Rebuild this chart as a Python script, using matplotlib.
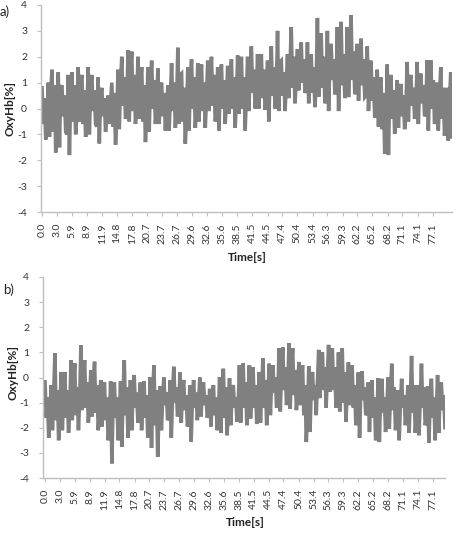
import numpy as np
import matplotlib
matplotlib.use("Agg")
from matplotlib import pyplot as plt

# tick labels of the time axis (s)
TIME_LABELS = ['0.0','3.0','5.9','8.9','11.9','14.8','17.8','20.7','23.7','26.7',
               '29.6','32.6','35.6','38.5','41.5','44.5','47.4','50.4','53.4','56.3',
               '59.3','62.2','65.2','68.2','71.1','74.1','77.1']
DUR_A = 80.9   # last sample time, panel a
DUR_B = 79.5   # last sample time, panel b

# panel a) OxyHb [%]
oxy_a = [
 0.8,-0.6,0.4,-1.2, -0.4,1.0,-1.1,0.6, 1.5,-0.9,0.9,-1.7, -0.7,1.4,-1.5,0.8,
 0.9,-0.3,0.5,-0.9, -1.0,1.3,-1.8,0.6, 1.4,-0.5,0.9,-1.0, -0.2,1.6,-0.5,1.0,
 1.3,-0.6,0.7,-1.1, -0.4,1.6,-1.0,0.8, 1.3,-0.1,0.7,-0.6, -0.7,1.2,-1.35,0.5,
 0.8,-0.3,0.4,-0.9, -0.1,0.5,-0.6,0.2, 1.0,-0.7,0.6,-1.4, -0.3,1.5,-0.8,0.9,
 2.0,0.1,1.2,-0.4, 0.0,2.25,-0.5,1.4, 2.2,-0.1,1.3,-0.6, 0.2,2.0,-0.4,1.1,
 1.6,-0.5,0.9,-1.3, -0.2,1.6,-0.9,1.0, 1.85,0.0,1.1,-0.6, 0.1,1.55,-0.6,0.9,
 1.0,-0.3,0.6,-0.85, -0.2,0.9,-0.85,0.5, 1.75,-0.1,1.0,-0.75, 0.2,2.35,-0.6,1.3,
 1.35,-0.5,0.8,-1.36, -0.2,1.6,-0.85,1.0, 1.9,0.0,1.2,-0.75, 0.1,1.75,-0.5,1.1,
 1.7,-0.1,1.0,-0.75, 0.4,1.85,-0.1,1.2, 2.0,0.1,1.3,-0.5, -0.2,1.6,-0.85,1.0,
 1.7,0.0,1.1,-0.6, 0.3,1.65,-0.2,1.0, 1.9,0.0,1.2,-0.75, 0.4,2.05,-0.2,1.3,
 2.0,0.0,1.2,-0.85, 0.5,2.0,-0.1,1.4, 2.4,0.6,1.5,0.0, 0.5,2.1,0.0,1.4,
 2.1,0.4,1.5,-0.05, 0.3,1.85,-0.5,1.3, 2.4,0.5,1.6,0.0, 0.6,3.0,-0.1,1.8,
 1.85,0.5,1.4,-0.1, 0.9,2.1,0.4,1.6, 3.15,0.8,2.0,0.2, 1.1,2.3,0.7,1.8,
 2.55,1.0,1.9,0.6, 0.8,2.55,0.2,1.8, 2.1,0.6,1.6,0.05, 0.9,3.5,0.45,2.2,
 2.9,0.8,2.0,0.2, 0.5,3.0,-0.1,1.9, 2.5,1.1,1.9,0.6, 0.6,3.15,-0.1,2.0,
 3.35,0.9,2.1,0.4, 1.0,3.15,0.44,2.0, 3.6,1.1,2.2,0.55, 0.8,2.5,0.3,1.8,
 2.7,0.9,1.9,0.44, 0.5,2.4,-0.1,1.6, 1.85,0.3,1.2,-0.35, -0.1,1.5,-0.7,0.9,
 1.2,-0.8,0.6,-1.75, -0.9,1.7,-1.8,0.8, 1.3,-0.4,0.7,-0.98, -0.2,1.1,-0.75,0.6,
 0.95,-0.3,0.5,-0.8, 0.0,1.8,-0.5,1.0, 1.3,0.1,0.8,-0.4, -0.1,1.8,-0.6,1.0,
 1.35,0.2,0.9,-0.3, -0.2,1.86,-0.85,1.0, 1.86,0.0,1.1,-0.6, -0.3,1.0,-0.85,0.5,
 1.6,-0.4,0.8,-1.05, -0.5,0.8,-1.24,0.3, 1.4,-1.1]

# panel b) OxyHb [%]
oxy_b = [
 -0.17,-1.6,-0.8,-2.4, -1.4,-0.3,-2.1,-0.7, 0.97,-1.7,-0.5,-2.5, -1.5,0.22,-2.1,-0.6,
 0.22,-1.6,-0.5,-2.2, -1.2,0.69,-1.7,-0.3, 0.56,-1.5,-0.4,-2.1, -0.8,1.28,-1.3,0.1,
 0.69,-1.2,-0.2,-1.8, -1.0,0.3,-1.55,-0.4, 0.63,-1.4,-0.3,-2.1, -1.3,-0.1,-1.95,-0.7,
 -0.2,-1.7,-0.8,-2.5, -1.9,-0.15,-3.42,-0.9, -0.2,-1.6,-0.8,-2.5, -1.8,-0.15,-2.76,-0.7,
 0.69,-1.5,-0.4,-2.4, -1.4,-0.1,-2.1,-0.7, 0.1,-1.2,-0.6,-1.8, -1.4,-0.2,-2.1,-0.8,
 -0.15,-1.6,-0.7,-2.4, -1.8,0.02,-2.8,-0.6, 0.49,-1.9,-0.5,-3.16, -1.4,-0.35,-2.1,-0.8,
 0.0,-1.1,-0.6,-1.7, -1.6,-0.1,-2.4,-0.7, 0.43,-1.0,-0.4,-1.55, -1.2,0.2,-1.8,-0.5,
 -0.1,-1.3,-0.7,-1.95, -1.7,-0.3,-2.55,-0.9, -0.1,-1.2,-0.6,-1.7, -1.0,0.0,-1.55,-0.5,
 -0.2,-1.1,-0.7,-1.6, -1.4,-0.45,-1.95,-0.9, -0.3,-1.5,-0.8,-2.1, -1.5,0.02,-2.2,-0.6,
 0.35,-1.6,-0.4,-2.3, -1.3,-0.03,-1.9,-0.6, -0.3,-1.2,-0.8,-1.77, -1.1,0.49,-1.8,-0.3,
 0.56,-1.2,-0.2,-1.9, -1.0,0.49,-1.63,-0.3, 0.4,-1.2,-0.3,-1.85, -1.1,0.22,-1.8,-0.4,
 0.76,-1.2,-0.1,-1.9, -0.9,0.55,-1.5,-0.1, 0.49,-0.6,0.0,-1.2, -0.7,1.17,-1.35,0.3,
 1.2,-0.5,0.4,-1.1, -0.6,1.36,-1.25,0.5, 1.17,-0.7,0.3,-1.3, -0.6,0.62,-1.1,0.0,
 0.49,-1.5,-0.3,-2.57, -1.4,0.45,-2.17,-0.4, 0.22,-0.9,-0.3,-1.5, -0.2,1.1,-0.82,0.5,
 1.0,-0.5,0.4,-1.2, 0.0,1.3,-0.57,0.6, 1.17,-0.5,0.4,-1.2, -0.7,1.0,-1.35,0.3,
 1.17,-1.0,0.2,-1.77, -0.6,0.6,-1.1,0.0, 0.49,-1.2,-0.3,-1.9, -1.5,0.2,-2.4,-0.5,
 0.25,-0.9,-0.4,-1.5, -1.4,-0.2,-2.17,-0.8, -0.1,-1.6,-0.8,-2.5, -1.7,-0.03,-2.57,-0.7,
 -0.05,-1.4,-0.8,-2.17, -1.3,0.0,-2.04,-0.7, 0.55,-1.3,-0.4,-2.1, -1.6,-0.5,-2.5,-1.0,
 -0.05,-1.2,-0.7,-1.9, -1.4,-0.3,-2.2,-0.8, 0.86,-1.4,-0.3,-2.2, -1.5,-0.3,-2.3,-0.9,
 0.55,-1.2,-0.4,-1.9, -1.7,-0.35,-2.6,-1.0, -0.05,-1.6,-0.8,-2.5, -1.4,0.1,-2.2,-0.6,
 -0.2,-1.3,-0.7,-2.0]

LINE = '#808080'
SPINE = '#bfbfbf'
TXT = '#333333'
plt.rcParams['font.family'] = ['Lato', 'DejaVu Sans']

fig = plt.figure(figsize=(4.6, 5.36), dpi=100)
W, H = 460.0, 536.0

def panel(box, vals, dur, tmin):
	l, r, t, b = box
	ax = fig.add_axes([l/W, 1-b/H, (r-l)/W, (b-t)/H])
	tt = np.linspace(0, dur, len(vals))
	ax.plot(tt, vals, color=LINE, lw=2.6, solid_joinstyle='miter')
	ax.set_xlim(tmin, dur)
	ax.set_ylim(-4, 4)
	ax.set_yticks(np.arange(-4, 5, 1))
	ax.set_yticklabels([str(v) for v in range(-4, 5)])
	ax.set_xticks([float(s) for s in TIME_LABELS])
	ax.set_xticklabels(TIME_LABELS, rotation=90)
	for s in ['top', 'right']:
		ax.spines[s].set_visible(False)
	for s in ['left', 'bottom']:
		ax.spines[s].set_color(SPINE)
		ax.spines[s].set_linewidth(1.0)
	ax.tick_params(axis='both', colors=SPINE, labelcolor=TXT, length=3, width=0.8, labelsize=7.5)
	ax.tick_params(axis='y', pad=7)
	ax.tick_params(axis='x', pad=5)
	return ax

ax1 = panel((41, 452, 5, 212), oxy_a, DUR_A, -0.2)
ax2 = panel((43, 445, 277, 478), oxy_b, DUR_B, -0.4)

fig.text(10/W, 1-108/H, 'OxyHb[%]', rotation=90, ha='center', va='center', fontsize=8.5, fontweight='bold', color='#222222')
fig.text(247/W, 1-257/H, 'Time[s]', ha='center', va='center', fontsize=8.5, fontweight='bold', color='#222222')
fig.text(13/W, 1-372/H, 'OxyHb[%]', rotation=90, ha='center', va='center', fontsize=8.5, fontweight='bold', color='#222222')
fig.text(245/W, 1-523/H, 'Time[s]', ha='center', va='center', fontsize=8.5, fontweight='bold', color='#222222')
fig.text(0/W, 1-12/H, 'a)', ha='left', va='center', fontsize=9.5, color='#222222')
fig.text(3/W, 1-290/H, 'b)', ha='left', va='center', fontsize=9.5, color='#222222')

fig.savefig('out.png', dpi=100)
